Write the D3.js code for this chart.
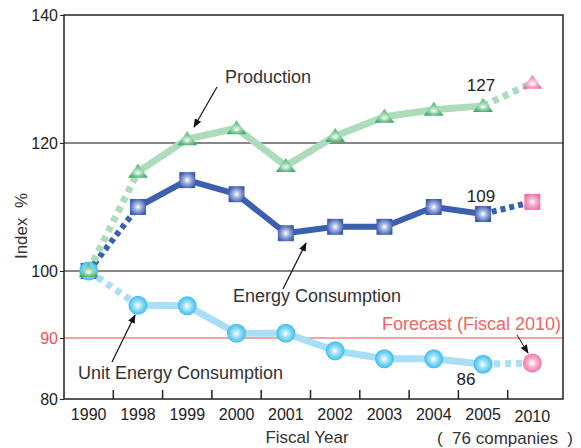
<!DOCTYPE html>
<meta charset="utf-8">
<style>
    body { margin: 0; background: #fff; }
    svg { font-family: "Liberation Sans", Arial, sans-serif; }
    .lbl { fill: #333; font-size: 18px; }
    .tick text { fill: #222; font-size: 16px; }
</style>
<body>
<script src="https://cdn.jsdelivr.net/npm/d3@7"></script>
<script>

    var years = ["1990", "1998", "1999", "2000", "2001", "2002", "2003", "2004", "2005", "2010"];
    var production = [100, 115.5, 120.6, 122.3, 116.4, 121.1, 124.1, 125.2, 125.8, 129.4];
    var energy = [100, 110.0, 114.2, 112.0, 105.9, 106.9, 106.9, 110.0, 108.9, 110.8];
    var unitEnergy = [100, 94.9, 94.8, 90.7, 90.7, 87.9, 86.6, 86.6, 85.7, 85.9];
    var yTicks = [80, 90, 100, 120, 140];

    var width = 581,
        height = 448;

    var svg = d3.select("body").append("svg")
        .attr("width", width)
        .attr("height", height);

    var x = d3.scaleBand().domain(years).range([64, 557]).padding(0);
    // the source axis is not evenly spaced, so use a piecewise scale
    var y = d3.scaleLinear().domain([80, 90, 100, 120, 140]).range([399, 338, 271, 143, 15]);
    var cx = function(d){ return x(d) + x.bandwidth() / 2; };

    var defs = svg.append("defs");
    function grad(id, inner, outer, fx, fy){
        var g = defs.append("radialGradient").attr("id", id)
            .attr("cx", "50%").attr("cy", "50%").attr("r", "55%")
            .attr("fx", fx).attr("fy", fy);
        g.append("stop").attr("offset", "0%").attr("stop-color", "#fff");
        g.append("stop").attr("offset", "45%").attr("stop-color", inner);
        g.append("stop").attr("offset", "100%").attr("stop-color", outer);
    }
    grad("gTri", "#8fd2a6", "#3fae6a", "50%", "68%");
    grad("gSq", "#9cabd9", "#3a5cae", "50%", "50%");
    grad("gCir", "#8edcf6", "#2fb6ec", "48%", "52%");
    grad("gPinkTri", "#f6aecd", "#ee6fa8", "50%", "68%");
    grad("gPinkSq", "#f6aecd", "#ee6fa8", "50%", "50%");
    grad("gPinkCir", "#f6aecd", "#ee6fa8", "48%", "50%");

    defs.append("marker").attr("id", "arrow")
        .attr("viewBox", "0 0 10 10").attr("refX", 9).attr("refY", 5)
        .attr("markerWidth", 9).attr("markerHeight", 9)
        .attr("markerUnits", "userSpaceOnUse")
        .attr("orient", "auto")
        .append("path").attr("d", "M0,1 L10,5 L0,9 Z").attr("fill", "#111");

    // gridlines
    svg.append("line").attr("x1", 64).attr("x2", 563)
        .attr("y1", y(120)).attr("y2", y(120)).attr("stroke", "#111").attr("stroke-width", 1);
    svg.append("line").attr("x1", 64).attr("x2", 563)
        .attr("y1", y(100)).attr("y2", y(100)).attr("stroke", "#111").attr("stroke-width", 1);
    svg.append("line").attr("x1", 64).attr("x2", 563)
        .attr("y1", y(90)).attr("y2", y(90)).attr("stroke", "#f04848").attr("stroke-width", 1);

    // frame
    svg.append("rect").attr("x", 64).attr("y", 15).attr("width", 499).attr("height", 384)
        .attr("fill", "none").attr("stroke", "#222").attr("stroke-width", 1.5);

    // y axis
    var yAxis = svg.append("g").attr("transform", "translate(64,0)")
        .call(d3.axisLeft(y).tickValues(yTicks).tickSize(4).tickFormat(d3.format("d")));
    yAxis.select(".domain").remove();
    yAxis.selectAll(".tick line").attr("stroke", "#222");
    yAxis.selectAll(".tick text").attr("x", -6)
        .style("fill", function(d){ return d == 90 ? "#f05050" : "#222"; });

    // x axis ticks between categories
    svg.selectAll(".xtick").data(years.slice(1)).enter().append("line")
        .attr("x1", function(d){ return x(d); }).attr("x2", function(d){ return x(d); })
        .attr("y1", 399).attr("y2", 390).attr("stroke", "#222").attr("stroke-width", 1.5);
    svg.selectAll(".xlab").data(years).enter().append("text")
        .attr("x", cx)
        .attr("y", function(d){ return d == "2010" ? 422 : 420; })
        .attr("text-anchor", "middle")
        .style("font-size", "16px").style("fill", "#222")
        .text(function(d){ return d; });

    svg.append("text").attr("class", "lbl").attr("x", 307).attr("y", 443)
        .attr("text-anchor", "middle").style("font-size", "17px").text("Fiscal Year");
    svg.append("text").attr("class", "lbl").attr("x", 505).attr("y", 444)
        .attr("text-anchor", "middle").style("font-size", "17px")
        .attr("xml:space", "preserve").text("(  76 companies  )");
    svg.append("text").attr("class", "lbl")
        .attr("transform", "translate(27,226) rotate(-90)")
        .attr("text-anchor", "middle").style("font-size", "17px")
        .attr("xml:space", "preserve").text("Index  %");

    // series lines
    var series = [
        {name: "energy", vals: energy, color: "#3b60b0", w: 6, dash: "5,4"},
        {name: "unit", vals: unitEnergy, color: "#a8dff6", w: 7, dash: "6,5"},
        {name: "production", vals: production, color: "#acdcbc", w: 7, dash: "6,5"}
    ];
    var line = d3.line().x(function(d){ return cx(d.year); }).y(function(d){ return y(d.v); });

    series.forEach(function(s){
        var pts = years.map(function(yr, i){ return {year: yr, v: s.vals[i]}; });
        svg.append("path").datum(pts.slice(0, 2)).attr("d", line)
            .attr("fill", "none").attr("stroke", s.color).attr("stroke-width", s.w)
            .attr("stroke-dasharray", s.dash);
        svg.append("path").datum(pts.slice(1, 9)).attr("d", line)
            .attr("fill", "none").attr("stroke", s.color).attr("stroke-width", s.w)
            .attr("stroke-linejoin", "round");
        svg.append("path").datum(pts.slice(8)).attr("d", line)
            .attr("fill", "none").attr("stroke", s.color).attr("stroke-width", s.w)
            .attr("stroke-dasharray", s.dash);
    });

    // markers: squares first, then circles, triangles on top
    svg.selectAll(".sq").data(years).enter().append("rect")
        .attr("x", function(d){ return cx(d) - 8; })
        .attr("y", function(d, i){ return y(energy[i]) - 8; })
        .attr("width", 16).attr("height", 16)
        .attr("fill", function(d){ return d == "2010" ? "url(#gPinkSq)" : "url(#gSq)"; });

    svg.selectAll(".cir").data(years).enter().append("circle")
        .attr("cx", cx)
        .attr("cy", function(d, i){ return y(unitEnergy[i]); })
        .attr("r", 9.5)
        .attr("fill", function(d){ return d == "2010" ? "url(#gPinkCir)" : "url(#gCir)"; });

    svg.selectAll(".tri").data(years).enter().append("path")
        .attr("d", "M0,-8 L10,6 L-10,6 Z")
        .attr("transform", function(d, i){ return "translate(" + cx(d) + "," + y(production[i]) + ")"; })
        .attr("fill", function(d){ return d == "2010" ? "url(#gPinkTri)" : "url(#gTri)"; });

    // value labels
    svg.append("text").attr("x", cx("2005") - 2).attr("y", 91)
        .attr("text-anchor", "middle").style("font-size", "17px").style("fill", "#222").text("127");
    svg.append("text").attr("x", cx("2005") - 2).attr("y", 202)
        .attr("text-anchor", "middle").style("font-size", "17px").style("fill", "#222").text("109");
    svg.append("text").attr("x", 466).attr("y", 385)
        .attr("text-anchor", "middle").style("font-size", "17px").style("fill", "#222").text("86");

    // annotations
    svg.append("text").attr("class", "lbl").attr("x", 225).attr("y", 83).text("Production");
    svg.append("line").attr("x1", 217).attr("y1", 87).attr("x2", 194).attr("y2", 127)
        .attr("stroke", "#111").attr("stroke-width", 1.2).attr("marker-end", "url(#arrow)");

    svg.append("text").attr("class", "lbl").attr("x", 233).attr("y", 302).text("Energy Consumption");
    svg.append("line").attr("x1", 283).attr("y1", 289).attr("x2", 306).attr("y2", 243)
        .attr("stroke", "#111").attr("stroke-width", 1.2).attr("marker-end", "url(#arrow)");

    svg.append("text").attr("class", "lbl").attr("x", 78).attr("y", 379).text("Unit Energy Consumption");
    svg.append("line").attr("x1", 112).attr("y1", 362).attr("x2", 135).attr("y2", 315)
        .attr("stroke", "#111").attr("stroke-width", 1.2).attr("marker-end", "url(#arrow)");

    svg.append("text").attr("x", 382).attr("y", 330)
        .style("font-size", "18px").style("fill", "#f06464").text("Forecast (Fiscal 2010)");
    svg.append("line").attr("x1", 517).attr("y1", 335).attr("x2", 528).attr("y2", 353)
        .attr("stroke", "#111").attr("stroke-width", 1).attr("marker-end", "url(#arrow)");

</script>
